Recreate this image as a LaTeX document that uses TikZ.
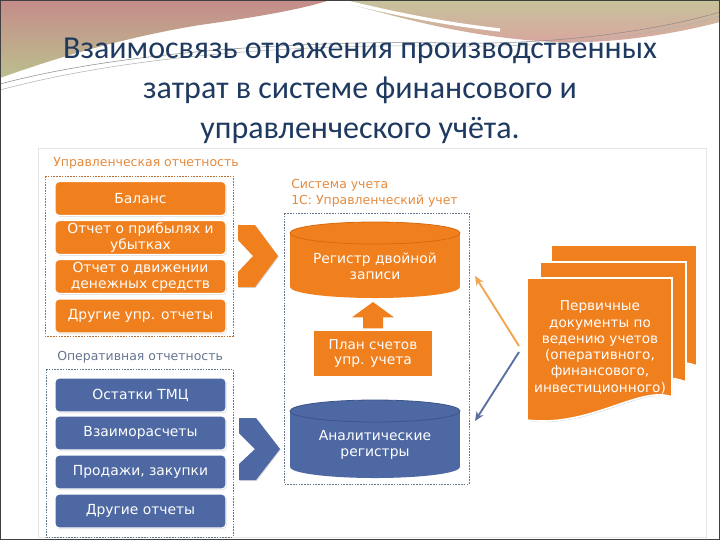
\documentclass[tikz,border=0pt]{standalone}
\usepackage{fontspec}
\setmainfont{DejaVu Sans}
\newfontfamily\titlefont{Carlito}
\usetikzlibrary{shadows,calc,arrows.meta}
\definecolor{orng}{HTML}{F07F1E}
\definecolor{orngdk}{HTML}{D96A0C}
\definecolor{blu}{HTML}{4D68A2}
\definecolor{bludk}{HTML}{3C5589}
\definecolor{ttl}{HTML}{1F3A60}
\definecolor{olab}{HTML}{E58A3E}
\definecolor{blab}{HTML}{65758F}
\definecolor{oarr}{HTML}{F2A450}
\definecolor{barr}{HTML}{5B6FA2}
\definecolor{rose}{HTML}{C58C8A}
\definecolor{olive}{HTML}{BBBF8E}
\definecolor{tan}{HTML}{C6C39C}
\definecolor{pinkb}{HTML}{D9A59E}
\tikzset{
  boxfont/.style={font=\fontsize{10.4pt}{11.8pt}\selectfont},
  basebox/.style={boxfont, text=white, align=center, inner sep=0pt,
    minimum width=128.25pt, minimum height=25.5pt, rounded corners=3pt,
    draw=white, line width=1pt,
    drop shadow={shadow xshift=0.6pt, shadow yshift=-0.8pt, opacity=0.35, fill=black!50}},
  obox/.style={basebox, fill=orng},
  bbox/.style={basebox, fill=blu},
  framebox/.style={draw=#1, line width=0.5pt, dash pattern=on 1.2pt off 0.9pt},
  lab/.style={font=\fontsize{9.35pt}{11.5pt}\selectfont, anchor=west, inner sep=0pt},
  conn/.style={line width=1.4pt, -{Stealth[length=7pt,width=6pt]}},
  pagestyle/.style={fill=orng, draw=white, line width=1.2pt,
    drop shadow={shadow xshift=0.8pt, shadow yshift=-0.8pt, opacity=0.3, fill=black!50}},
}
\begin{document}
\begin{tikzpicture}[x=0.75pt,y=-0.75pt]
\useasboundingbox (0,0) rectangle (720,540);
\fill[white] (0,0) rectangle (720,540);
% decorative header
\shade[top color=rose, bottom color=olive] (0,0) -- (330,0) .. controls (300,10) and (250,18) .. (200,25) .. controls (120,38) and (50,60) .. (0,78) -- cycle;
\shade[top color=tan, bottom color=pinkb] (335,0) -- (720,0) -- (720,22) .. controls (670,35) and (610,44) .. (555,42) .. controls (470,38) and (400,18) .. (335,0) -- cycle;
\draw[white, line width=2.5pt] (330,-2) .. controls (380,10) and (430,22) .. (500,30);
\draw[black!45, line width=0.4pt] (0,84) .. controls (120,52) and (300,40) .. (450,43) .. controls (560,45) and (660,30) .. (720,12);
\draw[black!30, line width=0.4pt] (0,90) .. controls (130,55) and (300,44) .. (450,46) .. controls (570,48) and (660,34) .. (720,16);
% title
\node[font=\titlefont\fontsize{24pt}{30pt}\selectfont, text=ttl, align=center] (title) at (360,91)
  {Взаимосвязь отражения производственных\\затрат в системе финансового и\\управленческого учёта.};
% panel
\draw[black!10, line width=0.5pt] (38,148) rectangle (706,537);
% frames
\draw[framebox=olab!80!black] (45,176) rectangle (233,336);
\draw[framebox=blab] (46,369) rectangle (233,537);
\draw[framebox=blab] (284,213) rectangle (469,484);
% labels
\node[lab, text=olab] (lblmgmt) at (53,163) {Управленческая отчетность};
\node[lab, text=blab] (lblop) at (57,357) {Оперативная отчетность};
\node[lab, text=olab, align=left] (lblsys) at (291,193) {Система учета\\1С: Управленческий учет};
% management boxes
\node[obox] (bal) at (140.5,198.5) {Баланс};
\node[obox] (pnl) at (140.5,237.5) {Отчет о прибылях и\\убытках};
\node[obox] (cash) at (140.5,276.5) {Отчет о движении\\денежных средств};
\node[obox] (omgmt) at (140.5,316) {Другие упр. отчеты};
% operational boxes
\node[bbox] (stock) at (140.5,395) {Остатки ТМЦ};
\node[bbox] (settle) at (140.5,433) {Взаиморасчеты};
\node[bbox] (sales) at (140.5,472) {Продажи, закупки};
\node[bbox] (oop) at (140.5,511) {Другие отчеты};
% chevrons
\fill[orng, drop shadow={shadow xshift=0.6pt, shadow yshift=-0.6pt, opacity=0.3, fill=black!50}]
  (238,225) -- (255,225) -- (278,256) -- (255,287) -- (238,287) -- (238,272) -- (253,256) -- (238,240) -- cycle;
\fill[blu, drop shadow={shadow xshift=0.6pt, shadow yshift=-0.6pt, opacity=0.3, fill=black!50}]
  (239,418) -- (256,418) -- (280,449) -- (256,480) -- (239,480) -- (239,464) -- (255,449) -- (239,433) -- cycle;
% cylinder: register of double entry
\fill[orng] (290,233) rectangle (460,287);
\fill[orng] (375,287) ellipse[x radius=85, y radius=11];
\fill[orng] (375,233) ellipse[x radius=85, y radius=11];
\draw[orngdk, line width=0.6pt] (375,233) ellipse[x radius=85, y radius=11];
\node[boxfont, text=white, align=center] (reg) at (375,266.5) {Регистр двойной\\записи};
% cylinder: analytic registers
\fill[blu] (290,411) rectangle (460,467);
\fill[blu] (375,467) ellipse[x radius=85, y radius=11];
\fill[blu] (375,411) ellipse[x radius=85, y radius=11];
\draw[bludk, line width=0.6pt] (375,411) ellipse[x radius=85, y radius=11];
\node[boxfont, text=white, align=center] (anl) at (375,445) {Аналитические\\регистры};
% chart of accounts
\node[boxfont, text=white, align=center, fill=orng, draw=white, line width=1pt,
  minimum width=90pt, minimum height=35.25pt, inner sep=0pt,
  drop shadow={shadow xshift=0.6pt, shadow yshift=-0.8pt, opacity=0.35, fill=black!50}]
  (plan) at (373,353.5) {\fontsize{10.2pt}{12.5pt}\selectfont План счетов\\упр. учета};
\coordinate (tip) at (373,302);
\fill[orng] ($(plan.north)+(-10,-1)$) -- ($(plan.north)+(-10,-12)$) -- ($(plan.north)+(-21,-12)$) -- (tip)
  -- ($(plan.north)+(21,-12)$) -- ($(plan.north)+(10,-12)$) -- ($(plan.north)+(10,-1)$) -- cycle;
% document stack
\draw[pagestyle] (551,245) -- (697,245) -- (697,366) .. controls (660,352) and (610,375) .. (551,368) -- cycle;
\draw[pagestyle] (540,262) -- (686,262) -- (686,382) .. controls (650,368) and (600,392) .. (540,385) -- cycle;
\draw[pagestyle] (527,278) -- (672,278) -- (672,397) .. controls (640,385) and (590,428) .. (527,420) -- cycle;
\node[font=\fontsize{10.2pt}{12.2pt}\selectfont, text=white, align=center] (docs) at (600,347.5)
  {Первичные\\документы по\\ведению учетов\\(оперативного,\\финансового,\\инвестиционного)};
% connectors
\coordinate (dA) at (519,346);
\coordinate (dB) at (519,352);
\coordinate (rA) at (475,276);
\coordinate (rB) at (475,421);
\draw[conn, oarr] (dA) -- (rA);
\draw[conn, barr] (dB) -- (rB);
% slide frame
\draw[black!75, line width=0.75pt] (0.5,0.5) rectangle (719.5,539.5);
\end{tikzpicture}
\end{document}
